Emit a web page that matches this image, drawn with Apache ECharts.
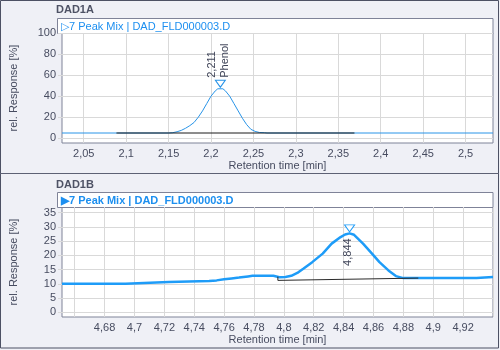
<!DOCTYPE html>
<html>
<head>
<meta charset="utf-8">
<script src="https://cdn.jsdelivr.net/npm/echarts@6/dist/echarts.min.js"></script>
<style>
  html, body { margin: 0; padding: 0; background: #eff0f6; }
  #chart { width: 500px; height: 350px; }
</style>
</head>
<body>
<div id="chart"></div>
<script>
// ---- DAD1A signal (retention time [min], rel. response [%]) ----
const timeA = [2.0244, 2.09, 2.15, 2.155, 2.16, 2.165, 2.17, 2.175, 2.18, 2.185, 2.19, 2.195, 2.2, 2.205, 2.208,
  2.214, 2.217, 2.222, 2.227, 2.232, 2.237, 2.242, 2.247, 2.252, 2.257, 2.263, 2.266, 2.5323];
const respA = [5, 5, 5, 5.3, 6.2, 7.5, 9.5, 12, 15, 20, 26, 33, 40, 45, 47,
  47, 45, 40, 33, 26, 19, 13, 8.5, 6.5, 5.5, 5.3, 5, 5];
const baseTimeA = [2.0886, 2.369];
const baseRespA = [5, 5];
const peakTimeA = [2.211];
const peakRespA = [47];
const peakNameA = ['Phenol'];
const xTicksA = [2.05, 2.1, 2.15, 2.2, 2.25, 2.3, 2.35, 2.4, 2.45, 2.5];
const yTicksA = [0, 20, 40, 60, 80, 100];

// ---- DAD1B signal ----
const timeB = [4.6515, 4.694, 4.695, 4.723, 4.724, 4.75, 4.755, 4.76, 4.765, 4.77, 4.776, 4.779, 4.793,
  4.797, 4.801, 4.805, 4.809, 4.813, 4.819, 4.826, 4.832, 4.838, 4.841, 4.844, 4.847, 4.853, 4.859,
  4.864, 4.87, 4.875, 4.88, 4.929, 4.930, 4.94];
const respB = [10.0, 10.0, 10.5, 10.6, 10.9, 11.0, 11.2, 11.6, 11.9, 12.2, 12.6, 12.8, 12.8,
  12.3, 12.4, 12.8, 13.8, 15.3, 17.6, 20.6, 24.1, 26.4, 27.3, 27.7, 27.2, 24.1, 20.6,
  17.6, 14.7, 12.7, 12.0, 12.0, 12.4, 12.4];
const baseTimeB = [4.796, 4.796, 4.89];
const baseRespB = [12.5, 11.2, 12.0];
const peakTimeB = [4.844];
const peakRespB = [27.7];
const xTicksB = [4.66, 4.68, 4.7, 4.72, 4.74, 4.76, 4.78, 4.8, 4.82, 4.84, 4.86, 4.88, 4.9, 4.92, 4.94];
const xLabelsB = [4.68, 4.7, 4.72, 4.74, 4.76, 4.78, 4.8, 4.82, 4.84, 4.86, 4.88, 4.9, 4.92];
const yTicksB = [0, 5, 10, 15, 20, 25, 30, 35];

const FONT = '"Liberation Sans", Arial, sans-serif';
const TXT = '#474c60';
const GRID_LINE = '#d9d9d9';
const FRAME = '#7f8398';
const comma = v => String(v).replace('.', ',');
const pairs = (xs, ys) => xs.map((x, i) => [x, ys[i]]);

function xAxisCfg(idx, min, max, ticks, labels) {
  return {
    type: 'value', gridIndex: idx, min: min, max: max,
    name: 'Retention time [min]', nameLocation: 'middle', nameGap: 17,
    nameTextStyle: { color: TXT, fontSize: 11, fontFamily: FONT },
    axisLine: { show: false },
    axisTick: { show: true, length: 4, customValues: ticks, lineStyle: { color: GRID_LINE } },
    axisLabel: { customValues: labels, formatter: comma, color: TXT, fontSize: 11, fontFamily: FONT, margin: 5 },
    splitLine: { show: true, lineStyle: { color: GRID_LINE, width: 1 } }
  };
}
function yAxisCfg(idx, min, max, ticks) {
  return {
    type: 'value', gridIndex: idx, min: min, max: max,
    name: 'rel. Response [%]', nameLocation: 'middle', nameGap: 43, nameRotate: 90,
    nameTextStyle: { color: TXT, fontSize: 11, fontFamily: FONT },
    axisLine: { show: false },
    axisTick: { show: true, length: 4, customValues: ticks, lineStyle: { color: GRID_LINE } },
    axisLabel: { customValues: ticks, color: TXT, fontSize: 11, fontFamily: FONT, margin: 6 },
    splitLine: { show: true, lineStyle: { color: GRID_LINE, width: 1 } }
  };
}
function peakMarker(t, r, color) {
  return {
    symbol: 'triangle', symbolRotate: 180, symbolSize: [10, 7], symbolOffset: [0, -5],
    itemStyle: { color: '#ffffff', borderColor: color, borderWidth: 1 },
    label: { show: false },
    silent: true,
    data: t.map((x, i) => ({ coord: [x, r[i]] }))
  };
}

const staticGraphics = [
  { id: 'frame', type: 'rect', z: 100, shape: { x: 0.5, y: 0.5, width: 498, height: 347.5 },
    style: { fill: null, stroke: '#4d5164', lineWidth: 1 } },
  { id: 'sep', type: 'line', z: 100, shape: { x1: 0, y1: 173.5, x2: 499, y2: 173.5 },
    style: { stroke: '#5d6174', lineWidth: 1 } },
  { id: 'titleA', type: 'text', x: 56, y: 10,
    style: { text: 'DAD1A', fontFamily: FONT, fontSize: 11, fontWeight: 'bold', fill: '#4e5265', verticalAlign: 'middle' } },
  { id: 'titleB', type: 'text', x: 56, y: 184.5,
    style: { text: 'DAD1B', fontFamily: FONT, fontSize: 11, fontWeight: 'bold', fill: '#4e5265', verticalAlign: 'middle' } },
  { id: 'headA', type: 'rect', shape: { x: 57.5, y: 18.5, width: 435.5, height: 15 },
    style: { fill: '#ffffff', stroke: FRAME, lineWidth: 1 } },
  { id: 'headB', type: 'rect', shape: { x: 57.5, y: 192.5, width: 435.5, height: 15 },
    style: { fill: '#ffffff', stroke: FRAME, lineWidth: 1 } },
  { id: 'headTextA', type: 'text', x: 61, y: 26.5,
    style: { text: '\u25B77 Peak Mix | DAD_FLD000003.D', fontFamily: FONT, fontSize: 11, fill: '#1c8ff0', verticalAlign: 'middle' } },
  { id: 'headTextB', type: 'text', x: 61, y: 200.5,
    style: { text: '\u25B67 Peak Mix | DAD_FLD000003.D', fontFamily: FONT, fontSize: 11, fontWeight: 'bold', fill: '#1c8ff0', verticalAlign: 'middle' } }
];

const chart = echarts.init(document.getElementById('chart'), null, { renderer: 'canvas' });
chart.setOption({
  animation: false,
  backgroundColor: '#eff0f6',
  textStyle: { fontFamily: FONT },
  grid: [
    { left: 57, right: 7, top: 33, height: 110, show: true, backgroundColor: '#ffffff', borderColor: FRAME, borderWidth: 1 },
    { left: 57, right: 7, top: 207, height: 110, show: true, backgroundColor: '#ffffff', borderColor: FRAME, borderWidth: 1 }
  ],
  xAxis: [
    xAxisCfg(0, 2.0244, 2.5323, xTicksA, xTicksA),
    xAxisCfg(1, 4.6515, 4.94, xTicksB, xLabelsB)
  ],
  yAxis: [
    yAxisCfg(0, -4.5, 100, yTicksA),
    yAxisCfg(1, -1.65, 36.95, yTicksB)
  ],
  graphic: staticGraphics,
  series: [
    { name: 'DAD1A', type: 'line', xAxisIndex: 0, yAxisIndex: 0, data: pairs(timeA, respA),
      showSymbol: false, lineStyle: { color: '#2894e8', width: 1 },
      markPoint: peakMarker(peakTimeA, peakRespA, '#2894e8') },
    { name: 'DAD1A baseline', type: 'line', xAxisIndex: 0, yAxisIndex: 0, data: pairs(baseTimeA, baseRespA),
      showSymbol: false, lineStyle: { color: '#1b1b1b', width: 1 } },
    { name: 'DAD1B', type: 'line', xAxisIndex: 1, yAxisIndex: 1, data: pairs(timeB, respB),
      showSymbol: false, lineStyle: { color: '#1e9cf8', width: 2.5 },
      markPoint: peakMarker(peakTimeB, peakRespB, '#1e9cf8') },
    { name: 'DAD1B baseline', type: 'line', xAxisIndex: 1, yAxisIndex: 1, data: pairs(baseTimeB, baseRespB),
      showSymbol: false, lineStyle: { color: '#2a2a2a', width: 1 } }
  ]
});

// Peak annotations: retention time (and compound name) written vertically at each apex
const labelStyle = { fontFamily: FONT, fontSize: 11, fill: '#3f4458', verticalAlign: 'middle', lineHeight: 13 };
const peakLabels = [];
peakTimeA.forEach((t, i) => {
  const p = chart.convertToPixel({ seriesIndex: 0 }, [t, peakRespA[i]]);
  peakLabels.push({ id: 'peakA' + i, type: 'text', z: 50, x: p[0] - 1.5, y: p[1] - 11, rotation: Math.PI / 2,
    style: Object.assign({ text: comma(t) + '\n' + peakNameA[i], align: 'left' }, labelStyle) });
});
peakTimeB.forEach((t, i) => {
  const p = chart.convertToPixel({ seriesIndex: 2 }, [t, peakRespB[i]]);
  peakLabels.push({ id: 'peakB' + i, type: 'text', z: 50, x: p[0] - 1.5, y: p[1] + 5, rotation: Math.PI / 2,
    style: Object.assign({ text: comma(t), align: 'right' }, labelStyle) });
});
chart.setOption({ graphic: staticGraphics.concat(peakLabels) });
</script>
</body>
</html>
